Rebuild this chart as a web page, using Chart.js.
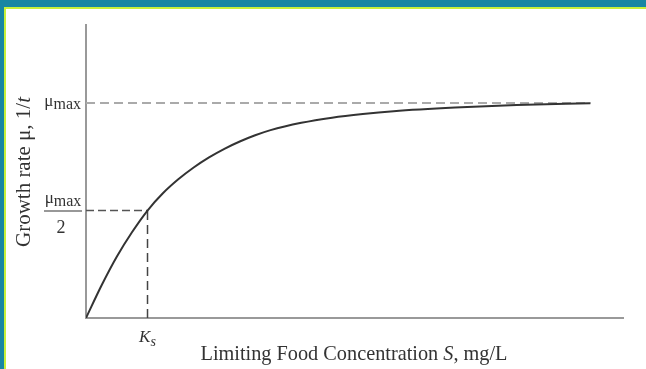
<!DOCTYPE html>
<html>
<head>
<meta charset="utf-8">
<script src="https://cdn.jsdelivr.net/npm/chart.js@4.4.1/dist/chart.umd.min.js"></script>
<style>
  html, body { margin:0; padding:0; background:#fff; }
  #wrap { position:relative; width:646px; height:369px; overflow:hidden; }
  canvas { position:absolute; left:0; top:0; }
  .f { position:absolute; pointer-events:none; }
</style>
</head>
<body>
<div id="wrap">
  <canvas id="c" width="646" height="369"></canvas>
  <div class="f" style="left:0;top:0;width:646px;height:7px;background:#1886a3"></div>
  <div class="f" style="left:0;top:0;width:4px;height:369px;background:#1886a3"></div>
  <div class="f" style="left:4px;top:7px;width:642px;height:2px;background:#c8f03a"></div>
  <div class="f" style="left:4px;top:7px;width:2px;height:362px;background:#c8f03a"></div>
</div>
<script>
// Substrate concentration in units of Ks, and growth rate as fraction of mu_max
const concS    = [0, 0.25, 0.5, 0.75, 1.0, 1.25, 1.5, 1.75, 2.0, 2.25, 2.5, 2.75, 3.0, 3.5, 4.0, 4.5, 5.0, 6.0, 7.0, 8.2];
const growthMu = [0, 0.15, 0.285, 0.40, 0.50, 0.58, 0.645, 0.70, 0.747, 0.787, 0.821, 0.85, 0.874, 0.908, 0.932, 0.949, 0.962, 0.979, 0.991, 0.999];
const muMax = 1.0;
const halfMu = 0.5;
const ksValue = 1.0;
const xMax = 8.73;
const yMax = 1.363;
const muSymbol = 'μ';
const maxSub = 'max';
const halfDenom = '2';
const ksMain = 'K';
const ksSub = 's';
const xTitleParts = ['Limiting Food Concentration ', 'S', ', mg/L'];
const yTitleParts = ['Growth rate μ, 1/', 't'];

const curve = concS.map((s, i) => ({x: s, y: growthMu[i]}));
const muMaxLine = [{x: 0, y: muMax}, {x: concS[concS.length - 1], y: muMax}];
const halfLine = [{x: 0, y: halfMu}, {x: ksValue, y: halfMu}];
const ksLine = [{x: ksValue, y: 0}, {x: ksValue, y: halfMu}];

const SERIF = '"Liberation Serif", "DejaVu Serif", serif';

function drawParts(ctx, parts, x, y, align) {
  let w = 0;
  parts.forEach(p => { ctx.font = p.font; w += ctx.measureText(p.t).width; });
  let cx = align === 'right' ? x - w : (align === 'center' ? x - w / 2 : x);
  ctx.textAlign = 'left';
  ctx.textBaseline = 'alphabetic';
  parts.forEach(p => {
    ctx.font = p.font;
    ctx.fillText(p.t, cx, y + (p.dy || 0));
    cx += ctx.measureText(p.t).width;
  });
  return w;
}

const labelPlugin = {
  id: 'labels',
  afterDraw(chart) {
    const ctx = chart.ctx;
    const xs = chart.scales.x, ys = chart.scales.y;
    ctx.save();
    ctx.fillStyle = '#333';
    const yMaxPx = ys.getPixelForValue(muMax);
    const yHalfPx = ys.getPixelForValue(halfMu);
    const xKs = xs.getPixelForValue(ksValue);
    drawParts(ctx, [
      {t: muSymbol, font: '17px ' + SERIF, dy: 0},
      {t: maxSub, font: '16px ' + SERIF, dy: 3}
    ], 81, yMaxPx + 3, 'right');
    const cxF = 63;
    drawParts(ctx, [
      {t: muSymbol, font: '17px ' + SERIF, dy: 0},
      {t: maxSub, font: '16px ' + SERIF, dy: 3}
    ], cxF, yHalfPx - 8, 'center');
    ctx.strokeStyle = '#333';
    ctx.lineWidth = 1.2;
    ctx.beginPath();
    ctx.moveTo(44, yHalfPx + 0.5);
    ctx.lineTo(82, yHalfPx + 0.5);
    ctx.stroke();
    drawParts(ctx, [{t: halfDenom, font: '18px ' + SERIF}], cxF - 2, yHalfPx + 22, 'center');
    drawParts(ctx, [
      {t: ksMain, font: 'italic 17px ' + SERIF, dy: 0},
      {t: ksSub, font: 'italic 14px ' + SERIF, dy: 4}
    ], xKs, 342, 'center');
    drawParts(ctx, [
      {t: xTitleParts[0], font: '20.3px ' + SERIF},
      {t: xTitleParts[1], font: 'italic 20.3px ' + SERIF},
      {t: xTitleParts[2], font: '20.3px ' + SERIF}
    ], 354, 360, 'center');
    ctx.translate(30, 172);
    ctx.rotate(-Math.PI / 2);
    drawParts(ctx, [
      {t: yTitleParts[0], font: '21px ' + SERIF},
      {t: yTitleParts[1], font: 'italic 21px ' + SERIF}
    ], 0, 0, 'center');
    ctx.restore();
  }
};

const bgPlugin = {
  id: 'bg',
  beforeDraw(chart) {
    const ctx = chart.ctx;
    ctx.save();
    ctx.fillStyle = '#fff';
    ctx.fillRect(0, 0, chart.width, chart.height);
    ctx.restore();
  }
};

new Chart(document.getElementById('c'), {
  type: 'scatter',
  data: {
    datasets: [
      {data: muMaxLine, showLine: true, borderColor: '#aaaaaa', borderWidth: 2, borderDash: [9, 5], pointRadius: 0, order: 3},
      {data: halfLine, showLine: true, borderColor: '#555555', borderWidth: 1.5, borderDash: [8, 4], pointRadius: 0, order: 2},
      {data: ksLine, showLine: true, borderColor: '#444444', borderWidth: 1.5, borderDash: [9, 5], pointRadius: 0, order: 2},
      {data: curve, showLine: true, borderColor: '#333333', borderWidth: 2, pointRadius: 0, cubicInterpolationMode: 'monotone', order: 1}
    ]
  },
  options: {
    responsive: false,
    devicePixelRatio: 1,
    animation: false,
    layout: {padding: {left: 86, right: 23, top: 25, bottom: 51}},
    plugins: {legend: {display: false}, tooltip: {enabled: false}},
    scales: {
      x: {
        type: 'linear', min: 0, max: xMax,
        grid: {display: false, drawTicks: false},
        ticks: {display: false},
        border: {display: true, color: '#999999', width: 2}
      },
      y: {
        type: 'linear', min: 0, max: yMax,
        grid: {display: false, drawTicks: false},
        ticks: {display: false},
        border: {display: true, color: '#999999', width: 2}
      }
    }
  },
  plugins: [bgPlugin, labelPlugin]
});
</script>
</body>
</html>
